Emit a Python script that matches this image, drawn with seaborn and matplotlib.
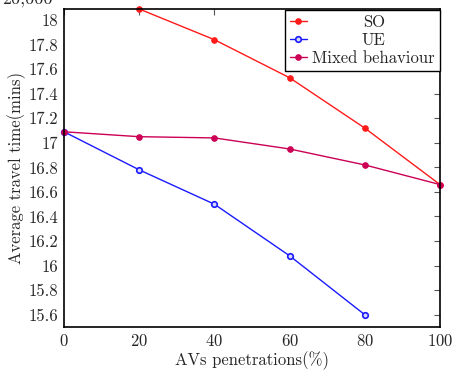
import matplotlib
matplotlib.use("Agg")
import matplotlib.pyplot as plt
import matplotlib.ticker as mticker
import seaborn as sns
import pandas as pd

# values
penetration = [0, 20, 40, 60, 80, 100]
so_x = [20, 40, 60, 80, 100]
so_time = [18.09, 17.84, 17.53, 17.12, 16.66]
ue_x = [0, 20, 40, 60, 80]
ue_time = [17.09, 16.78, 16.50, 16.08, 15.60]
mixed_time = [17.09, 17.05, 17.04, 16.95, 16.82, 16.66]

x_ticks = [0, 20, 40, 60, 80, 100]
y_ticks = [15.6, 15.8, 16.0, 16.2, 16.4, 16.6, 16.8, 17.0, 17.2, 17.4, 17.6, 17.8, 18.0]

sns.set_theme(style="white")
plt.rcParams['font.family'] = 'serif'
plt.rcParams['font.serif'] = ['cmr10', 'DejaVu Serif']
plt.rcParams['mathtext.fontset'] = 'cm'
plt.rcParams['axes.formatter.use_mathtext'] = True

fig = plt.figure(figsize=(4.53, 3.70), dpi=100)
ax = fig.add_axes([0.1413, 0.1162, 0.830, 0.8595])

so_df = pd.DataFrame({'x': so_x, 'y': so_time})
ue_df = pd.DataFrame({'x': ue_x, 'y': ue_time})
mixed_df = pd.DataFrame({'x': penetration, 'y': mixed_time})

sns.lineplot(data=so_df, x='x', y='y', ax=ax, color='#ff1a1a', marker='o', markersize=4,
             markeredgecolor='#ff1a1a', markerfacecolor='#ff1a1a', linewidth=1.0,
             label='SO', clip_on=False)
sns.lineplot(data=ue_df, x='x', y='y', ax=ax, color='#1a1aff', marker='o', markersize=4,
             markeredgecolor='#1a1aff', markerfacecolor='#d8d8ff', markeredgewidth=1.2,
             linewidth=1.0, label='UE', clip_on=False)
sns.lineplot(data=mixed_df, x='x', y='y', ax=ax, color='#cc0055', marker='o', markersize=4,
             markeredgecolor='#cc0055', markerfacecolor='#cc0055', linewidth=1.0,
             label='Mixed behaviour', clip_on=False)

ax.set_xlim(0, 100)
ax.set_ylim(15.5, 18.09)
ax.set_xticks(x_ticks)
ax.set_yticks(y_ticks)
ax.yaxis.set_major_formatter(mticker.FuncFormatter(lambda v, p: f"{v:g}"))
ax.tick_params(direction='in', length=4, width=0.8, top=True, right=True,
               labelsize=12, color='#555555', pad=4)
for s in ax.spines.values():
    s.set_color('black')
    s.set_linewidth(1.2)

ax.set_xlabel('AVs penetrations(%)', fontsize=12, labelpad=2)
ax.set_ylabel('Average travel time(mins)', fontsize=12, labelpad=2)

leg = ax.legend(loc='upper right', bbox_to_anchor=(1.0, 0.997), borderaxespad=0,
                fancybox=False, framealpha=1, edgecolor='black', fontsize=12,
                handlelength=1.0, handletextpad=0.35, labelspacing=0.15,
                borderpad=0.3)
leg.get_frame().set_linewidth(1.0)

# centre the legend texts inside their column
fig.canvas.draw()
texts = leg.get_texts()
widths = [t.get_window_extent().width for t in texts]
wmax = max(widths)
for t, w in zip(texts, widths):
    t.set_x(t.get_position()[0] + (wmax - w) / 2)

fig.text(0.005, 1.003, '20,000', fontsize=13, fontweight='bold', va='center', ha='left')

fig.savefig('out.png', dpi=100)
